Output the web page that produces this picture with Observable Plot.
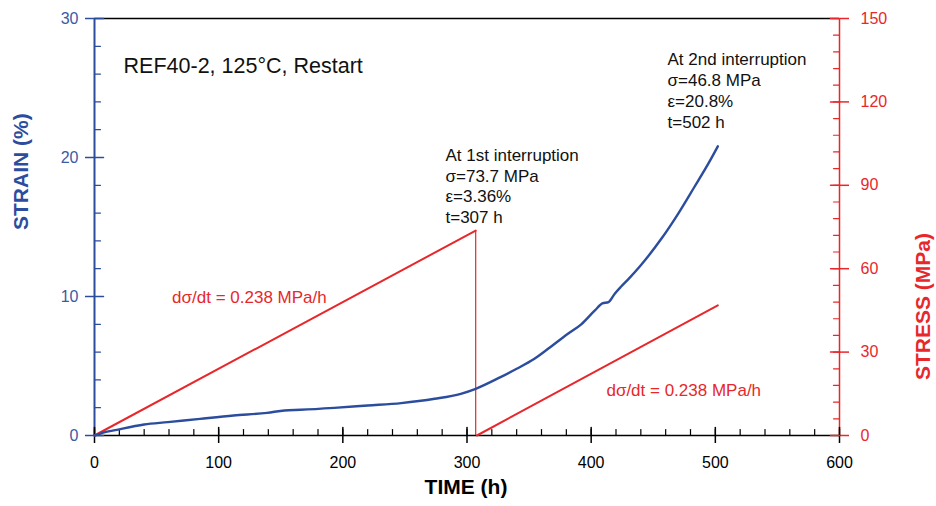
<!DOCTYPE html>
<html>
<head>
<meta charset="utf-8">
<script src="https://cdn.jsdelivr.net/npm/d3@7"></script>
<script src="https://cdn.jsdelivr.net/npm/@observablehq/plot@0.6"></script>
<style>
  body { margin: 0; background: #fff; }
  svg { display: block; }
</style>
</head>
<body>
<div id="chart"></div>
<script>
// ---- Data ----
const strainTime = [0, 3, 7, 18, 40, 59, 85, 112, 139, 153, 166, 193, 220, 247, 274, 295, 307, 327, 340, 354, 367, 381, 392, 403, 409, 414, 419, 424, 430, 440, 456.5, 470, 483, 494, 502];
const strainPct  = [0, 0.08, 0.2, 0.41, 0.79, 0.96, 1.2, 1.44, 1.63, 1.8, 1.85, 1.99, 2.16, 2.33, 2.64, 3.0, 3.36, 4.2, 4.8, 5.5, 6.35, 7.3, 8.0, 9.0, 9.5, 9.6, 10.2, 10.7, 11.25, 12.25, 14.15, 15.95, 17.86, 19.5, 20.8];

const ramp1Time = [0, 307];
const ramp1Stress = [0, 73.7];
const ramp2Time = [308, 502];
const ramp2Stress = [0, 46.8];
const dropTime = [307];
const dropStress = [73.7];

const timeMajor = [0, 100, 200, 300, 400, 500, 600];
const timeMinor = d3.range(0, 601, 20);
const strainMajor = [0, 10, 20, 30];
const strainMinor = d3.range(0, 30.1, 2);
const stressMajor = [0, 30, 60, 90, 120, 150];
const stressMinor = d3.range(0, 150.1, 6);

const titleText = ["REF40-2, 125°C, Restart"];
const titlePos = [[23.4, 26.6]];
const noteTexts = ["At 1st interruption\nσ=73.7 MPa\nε=3.36%\nt=307 h", "At 2nd interruption\nσ=46.8 MPa\nε=20.8%\nt=502 h"];
const notePos = [[282.7, 17.99], [461.5, 24.86]];
const rateTexts = ["dσ/dt = 0.238 MPa/h", "dσ/dt = 0.238 MPa/h"];
const ratePos = [[62.5, 9.93], [412.3, 3.24]];

// ---- Helpers ----
const xDomain = [0, 600];
const yDomain = [0, 30];
const stressMax = 150;
const k = yDomain[1] / stressMax; // stress -> strain axis
const blue = "#2c4d9e";
const blueText = "#3a5aa6";
const red = "#e8272b";
const font = "'Liberation Sans', Arial, sans-serif";

const strainData = strainTime.map((t, i) => ({t, v: strainPct[i]}));
const ramp1 = ramp1Time.map((t, i) => ({t, v: ramp1Stress[i] * k}));
const ramp2 = ramp2Time.map((t, i) => ({t, v: ramp2Stress[i] * k}));

const tickShape = {draw(ctx, l) { ctx.moveTo(0, 0); ctx.lineTo(0, -l); }};

const chart = Plot.plot({
  width: 936,
  height: 506,
  marginLeft: 94,
  marginRight: 97,
  marginTop: 18,
  marginBottom: 71,
  style: {fontFamily: font, fontSize: "16px", background: "#fff"},
  x: {domain: xDomain},
  y: {domain: yDomain},
  marks: [
    // frame lines
    Plot.ruleY([yDomain[1]], {stroke: "#000", strokeWidth: 1.5}),
    Plot.ruleY([yDomain[0]], {stroke: "#000", strokeWidth: 1.5}),
    Plot.ruleX([xDomain[0]], {stroke: blue, strokeWidth: 2}),
    Plot.ruleX([xDomain[1]], {stroke: red, strokeWidth: 1.5}),

    // axes (outward ticks + labels)
    Plot.axisX({ticks: timeMajor, tickSize: 8, tickPadding: 13, tickFormat: d3.format("d"), label: null, stroke: "#000", fill: "#000", fontSize: 16, strokeWidth: 1.5}),
    Plot.axisY({anchor: "left", ticks: strainMajor, tickSize: 9, tickPadding: 7, tickFormat: d3.format("d"), label: null, stroke: blue, fill: blueText, fontSize: 16, strokeWidth: 1.5}),
    Plot.axisY({anchor: "right", ticks: stressMajor.map(s => s * k), tickSize: 9, tickPadding: 12, tickFormat: d => d3.format("d")(Math.round(d / k)), label: null, stroke: red, fill: red, fontSize: 16, strokeWidth: 1.5}),

    // inward ticks
    Plot.vector(timeMinor, {x: d => d, y: () => yDomain[0], length: 6, rotate: 0, anchor: "start", shape: tickShape, stroke: "#000", strokeWidth: 1.2}),
    Plot.vector(timeMajor, {x: d => d, y: () => yDomain[0], length: 8, rotate: 0, anchor: "start", shape: tickShape, stroke: "#000", strokeWidth: 1.5}),
    Plot.vector(strainMinor, {x: () => xDomain[0], y: d => d, length: 6, rotate: 90, anchor: "start", shape: tickShape, stroke: blue, strokeWidth: 1.2}),
    Plot.vector(strainMajor, {x: () => xDomain[0], y: d => d, length: 9, rotate: 90, anchor: "start", shape: tickShape, stroke: blue, strokeWidth: 1.5}),
    Plot.vector(stressMinor, {x: () => xDomain[1], y: d => d * k, length: 6, rotate: -90, anchor: "start", shape: tickShape, stroke: red, strokeWidth: 1.2}),
    Plot.vector(stressMajor, {x: () => xDomain[1], y: d => d * k, length: 9, rotate: -90, anchor: "start", shape: tickShape, stroke: red, strokeWidth: 1.5}),

    // stress
    Plot.line(ramp1, {x: "t", y: "v", stroke: red, strokeWidth: 2}),
    Plot.ruleX(dropTime, {x: d => d, y1: () => 0, y2: (d, i) => dropStress[i] * k, stroke: red, strokeWidth: 1.2}),
    Plot.line(ramp2, {x: "t", y: "v", stroke: red, strokeWidth: 2}),

    // strain
    Plot.line(strainData, {x: "t", y: "v", stroke: blue, strokeWidth: 2.4, curve: "monotone-x"}),

    // annotations
    Plot.text(titleText, {x: (d, i) => titlePos[i][0], y: (d, i) => titlePos[i][1], text: d => d, textAnchor: "start", fontSize: 21.5, fill: "#111"}),
    Plot.text(noteTexts, {x: (d, i) => notePos[i][0], y: (d, i) => notePos[i][1], text: d => d, textAnchor: "start", fontSize: 17, lineHeight: 1.22, fill: "#111"}),
    Plot.text(rateTexts, {x: (d, i) => ratePos[i][0], y: (d, i) => ratePos[i][1], text: d => d, textAnchor: "start", fontSize: 17, fill: red}),

    // axis titles
    Plot.text(["TIME (h)"], {frameAnchor: "bottom", text: d => d, dx: -1, dy: 58, fontSize: 21, fontWeight: "bold", fill: "#000"}),
    Plot.text(["STRAIN (%)"], {frameAnchor: "left", text: d => d, dx: -73.5, dy: 3, rotate: -90, fontSize: 21, fontWeight: "bold", fill: blue}),
    Plot.text(["STRESS (MPa)"], {frameAnchor: "right", text: d => d, dx: 84, dy: 6, rotate: -90, fontSize: 21, fontWeight: "bold", fill: red})
  ]
});
document.getElementById("chart").appendChild(chart);
</script>
</body>
</html>
